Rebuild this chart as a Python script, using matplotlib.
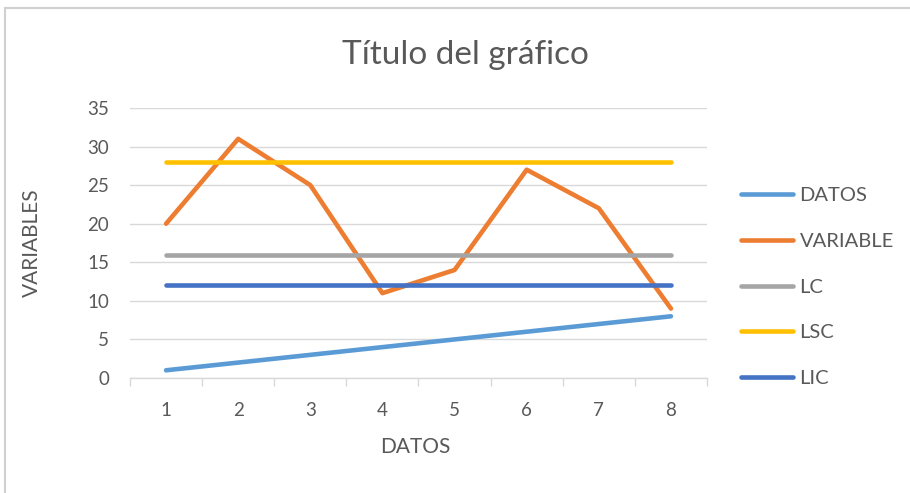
import matplotlib.pyplot as plt
from matplotlib.patches import Rectangle

# data
datos_x = [1, 2, 3, 4, 5, 6, 7, 8]
datos = [1, 2, 3, 4, 5, 6, 7, 8]
variable = [20, 31, 25, 11, 14, 27, 22, 9]
lc = [16, 16, 16, 16, 16, 16, 16, 16]
lsc = [28, 28, 28, 28, 28, 28, 28, 28]
lic = [12, 12, 12, 12, 12, 12, 12, 12]

plt.rcParams['font.family'] = ['Lato', 'DejaVu Sans']
txt = "#595959"

fig = plt.figure(figsize=(9.1, 4.93), dpi=100)
ax = fig.add_axes([130 / 910, 1 - 378 / 493, (707 - 130) / 910, (378 - 108) / 493])

# frame around the chart, like the screenshot border
fig.patches.append(Rectangle((5 / 910, -0.1), 1.2, 1 - 8 / 493 + 0.1, transform=fig.transFigure,
                             fill=False, edgecolor="#D0D0D0", linewidth=1.5))

lw = 3.3
ax.plot(datos_x, datos, color="#5B9BD5", lw=lw, label="DATOS", solid_capstyle="round")
ax.plot(datos_x, variable, color="#ED7D31", lw=lw, label="VARIABLE", solid_capstyle="round")
ax.plot(datos_x, lc, color="#A5A5A5", lw=lw, label="LC", solid_capstyle="round")
ax.plot(datos_x, lsc, color="#FFC000", lw=lw, label="LSC", solid_capstyle="round")
ax.plot(datos_x, lic, color="#4472C4", lw=lw, label="LIC", solid_capstyle="round")

ax.set_xlim(0.5, 8.5)
ax.set_ylim(0, 35)
ax.set_yticks(range(0, 36, 5))
ax.set_xticks(datos_x)
ax.set_xticks([x + 0.5 for x in range(0, 9)], minor=True)
ax.grid(axis="y", color="#D9D9D9", lw=1)
ax.set_axisbelow(True)

for s in ["left", "right", "top"]:
    ax.spines[s].set_visible(False)
ax.spines["bottom"].set_color("#D9D9D9")
ax.spines["bottom"].set_linewidth(1)

ax.tick_params(axis="y", length=0, pad=15, labelsize=13.5, labelcolor=txt)
ax.tick_params(axis="x", which="major", length=0, pad=17, labelsize=13.5, labelcolor=txt)
ax.tick_params(axis="x", which="minor", length=6, color="#D9D9D9", width=1)

ax.set_xlabel("DATOS", fontsize=15, color=txt)
ax.set_ylabel("VARIABLES", fontsize=15, color=txt)
ax.xaxis.set_label_coords((415 - 130) / 577, (378 - 447) / 270)
ax.yaxis.set_label_coords((32 - 130) / 577, 0.5)
ax.xaxis.label.set_va("center")
ax.yaxis.label.set_va("center")

fig.text(465 / 910, 1 - 55 / 493, "Título del gráfico", ha="center", va="center",
         fontsize=24, color=txt)

fig.legend(loc="center left", bbox_to_anchor=(733 / 910, 1 - 287 / 493), frameon=False,
           fontsize=14.5, labelcolor=txt, labelspacing=1.42, handlelength=2.6,
           handletextpad=0.3, borderaxespad=0)

fig.savefig("out.png", dpi=100)
